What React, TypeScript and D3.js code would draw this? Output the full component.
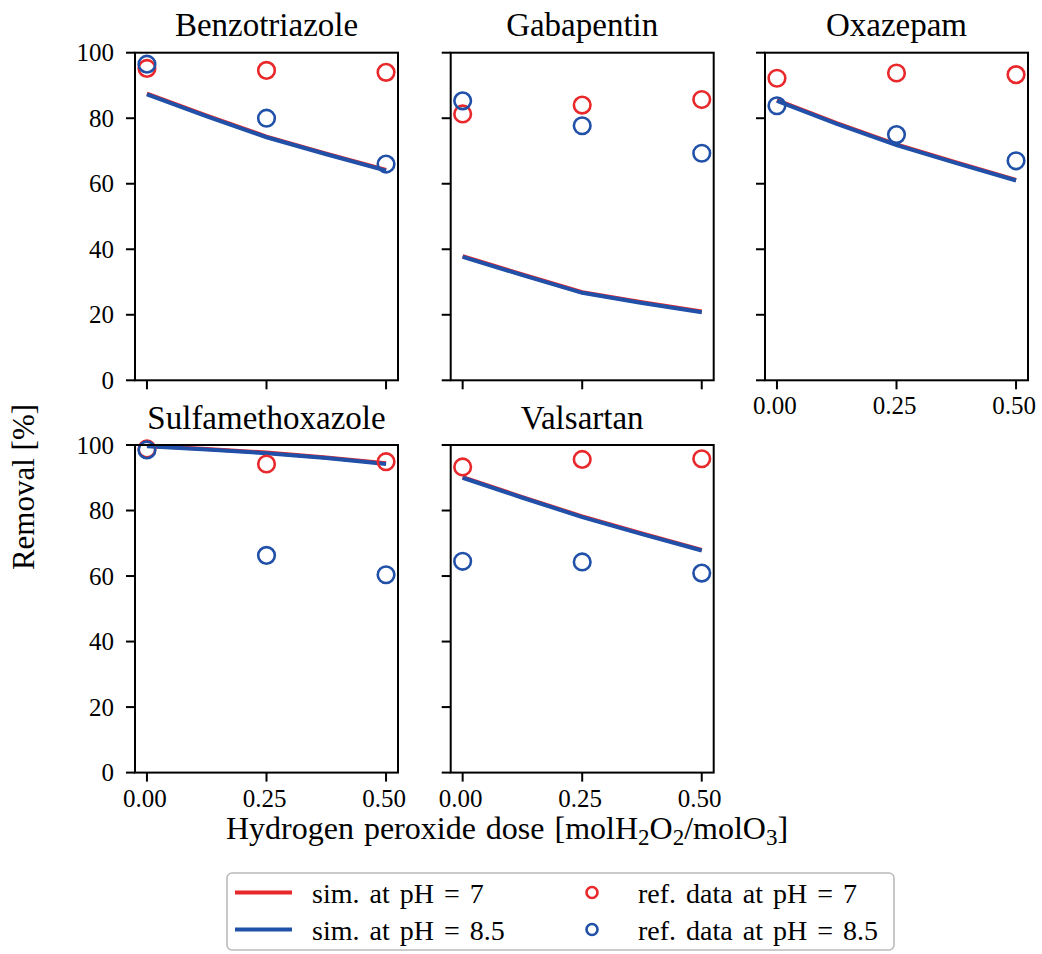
import React from 'react';
import * as d3 from 'd3';

const compounds = ['Benzotriazole', 'Gabapentin', 'Oxazepam', 'Sulfamethoxazole', 'Valsartan'];
const refDoses = [0, 0.25, 0.5];
const simDoses = [0, 0.125, 0.25, 0.375, 0.5];

// measured removal [%] at pH 7 and 8.5
const refPH7 = [
  [95.2, 94.6, 94.0],
  [81.3, 84.0, 85.7],
  [92.2, 93.8, 93.3],
  [98.8, 94.2, 94.9],
  [93.3, 95.6, 95.8],
];
const refPH85 = [
  [96.5, 80.0, 66.0],
  [85.3, 77.7, 69.3],
  [83.8, 75.0, 67.0],
  [98.5, 66.3, 60.4],
  [64.5, 64.3, 60.9],
];

// simulated removal [%]
const simPH7 = [
  [87.5, 80.8, 74.4, 69.2, 64.2],
  [37.9, 32.3, 26.9, 23.8, 21.0],
  [85.5, 78.5, 72.0, 66.5, 61.2],
  [99.8, 98.8, 97.7, 96.2, 94.4],
  [90.2, 84.1, 78.2, 73.0, 68.0],
];
const simPH85 = [
  [87.3, 80.6, 74.2, 69.0, 64.0],
  [37.7, 32.1, 26.7, 23.6, 20.8],
  [85.3, 78.3, 71.8, 66.3, 61.0],
  [99.6, 98.6, 97.5, 96.0, 94.2],
  [90.0, 83.9, 78.0, 72.8, 67.8],
];

const xTicks = [0, 0.25, 0.5];
const yTicks = [0, 20, 40, 60, 80, 100];

const RED = '#e8282b';
const BLUE = '#2150a8';
const FONT = '"Liberation Serif", "Times New Roman", serif';

const W = 1042;
const H = 954;
const colX = [135, 450.7, 765];
const rowY = [52.7, 445];
const pw = 263;
const ph = 327.6;

function Panel({ idx }: { idx: number }) {
  const col = idx % 3;
  const row = Math.floor(idx / 3);
  const left = colX[col];
  const top = rowY[row];
  const x = d3.scaleLinear().domain([-0.025, 0.525]).range([0, pw]);
  const y = d3.scaleLinear().domain([0, 100]).range([ph, 0]);
  const line = d3
    .line<number>()
    .x((_, i) => x(simDoses[i]))
    .y((d) => y(d));
  const showX = row === 1 || col === 2;
  const showY = col === 0;

  return (
    <g transform={`translate(${left},${top})`}>
      <text x={pw / 2} y={-16.5} textAnchor="middle" fontSize={33} fontFamily={FONT}>
        {compounds[idx]}
      </text>
      <path d={line(simPH7[idx]) || ''} fill="none" stroke={RED} strokeWidth={4} />
      <path d={line(simPH85[idx]) || ''} fill="none" stroke={BLUE} strokeWidth={4} />
      {refPH7[idx].map((v, i) => (
        <circle key={'r' + i} cx={x(refDoses[i])} cy={y(v)} r={8.3} fill="none" stroke={RED} strokeWidth={2.6} />
      ))}
      {refPH85[idx].map((v, i) => (
        <circle key={'b' + i} cx={x(refDoses[i])} cy={y(v)} r={8.3} fill="none" stroke={BLUE} strokeWidth={2.6} />
      ))}
      <rect x={0} y={0} width={pw} height={ph} fill="none" stroke="#000" strokeWidth={2} />
      {yTicks.map((t) => (
        <g key={'y' + t} transform={`translate(0,${y(t)})`}>
          <line x1={-9} x2={0} stroke="#000" strokeWidth={2} />
          {showY && (
            <text x={-21} dy="0.34em" textAnchor="end" fontSize={25} fontFamily={FONT}>
              {t}
            </text>
          )}
        </g>
      ))}
      {xTicks.map((t) => (
        <g key={'x' + t} transform={`translate(${x(t)},${ph})`}>
          <line y1={0} y2={9} stroke="#000" strokeWidth={2} />
          {showX && (
            <text x={-2} y={34} textAnchor="middle" fontSize={25} fontFamily={FONT}>
              {d3.format('.2f')(t)}
            </text>
          )}
        </g>
      ))}
    </g>
  );
}

const legendItems = [
  { label: 'sim. at pH = 7', color: RED, kind: 'line' },
  { label: 'sim. at pH = 8.5', color: BLUE, kind: 'line' },
  { label: 'ref. data at pH = 7', color: RED, kind: 'circle' },
  { label: 'ref. data at pH = 8.5', color: BLUE, kind: 'circle' },
];

function Legend() {
  const lx = 227;
  const ly = 873;
  return (
    <g>
      <rect x={lx} y={ly} width={667} height={77} rx={5} fill="#fff" stroke="#bbbbbb" strokeWidth={1.6} />
      {legendItems.map((it, i) => {
        const c = Math.floor(i / 2);
        const r = i % 2;
        const cy = 892.5 + r * 37;
        return (
          <g key={it.label}>
            {it.kind === 'line' ? (
              <line x1={235} x2={292} y1={cy} y2={cy} stroke={it.color} strokeWidth={4} />
            ) : (
              <circle cx={592} cy={cy} r={5.5} fill="none" stroke={it.color} strokeWidth={2.6} />
            )}
            <text
              x={c === 0 ? 312 : 638}
              y={cy + 10}
              fontSize={28}
              fontFamily={FONT}
              style={{ wordSpacing: '3px' }}
            >
              {it.label}
            </text>
          </g>
        );
      })}
    </g>
  );
}

export default function App() {
  return (
    <svg
      width={W}
      height={H}
      style={{ position: 'absolute', left: 0, top: 0, display: 'block', background: '#fff' }}
    >
      <rect width={W} height={H} fill="#fff" />
      {compounds.map((_, i) => (
        <Panel key={i} idx={i} />
      ))}
      <text
        transform="translate(34,487) rotate(-90)"
        textAnchor="middle"
        fontSize={31}
        fontFamily={FONT}
      >
        Removal [%]
      </text>
      <text
        x={507}
        y={839}
        textAnchor="middle"
        fontSize={32}
        fontFamily={FONT}
        style={{ wordSpacing: '2px' }}
      >
        Hydrogen peroxide dose [molH<tspan dy={6} fontSize={23}>2</tspan>
        <tspan dy={-6}>O</tspan>
        <tspan dy={6} fontSize={23}>2</tspan>
        <tspan dy={-6}>/molO</tspan>
        <tspan dy={6} fontSize={23}>3</tspan>
        <tspan dy={-6}>]</tspan>
      </text>
      <Legend />
    </svg>
  );
}
